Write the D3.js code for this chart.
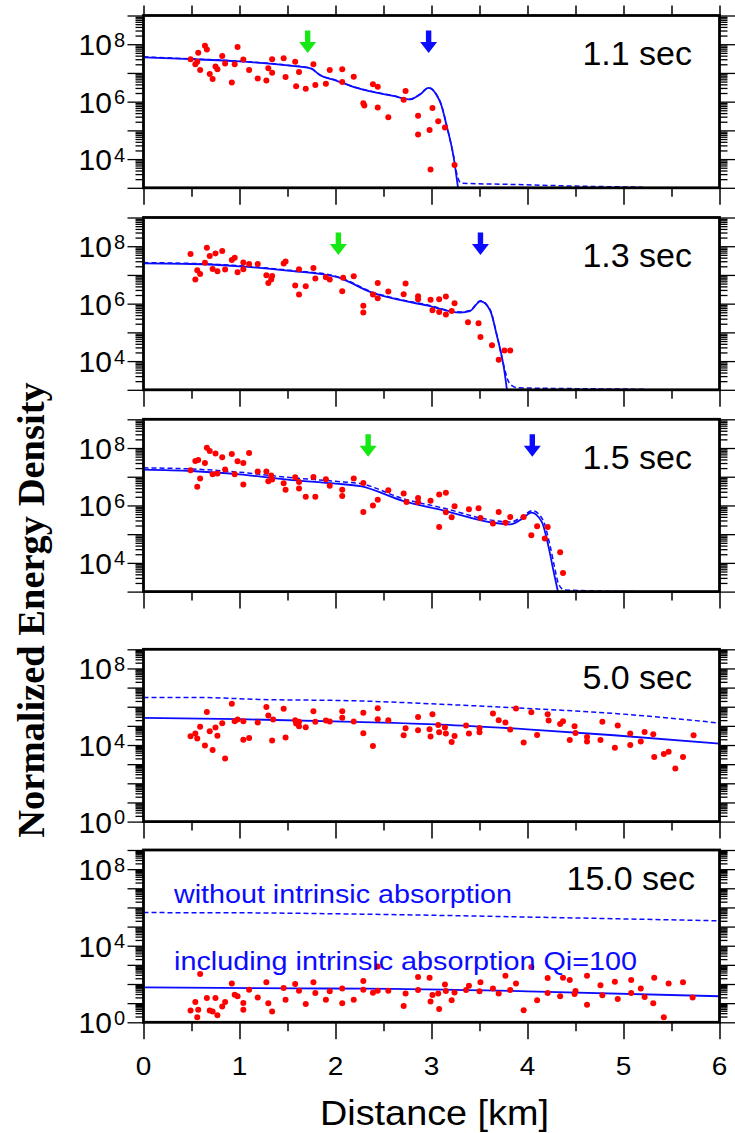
<!DOCTYPE html>
<html>
<head>
<meta charset="utf-8">
<script src="https://cdn.jsdelivr.net/npm/d3@7"></script>
<style>
  body { margin: 0; background: #fff; }
</style>
</head>
<body>
<div id="container"></div>
<script>
let w = 735;
let h = 1133;

// ---- data ----
const panelTimes = ["1.1 sec", "1.3 sec", "1.5 sec", "5.0 sec", "15.0 sec"];
const panelMinExp = [3, 3, 3, 0, 0];
const yLabelExps = [[8, 6, 4], [8, 6, 4], [8, 6, 4], [8, 4, 0], [8, 4, 0]];
const distanceTicks = [0, 1, 2, 3, 4, 5, 6];
const greenArrows = [1.71, 2.03, 2.34, null, null];
const blueArrows = [2.97, 3.51, 4.05, null, null];

// observed energy density: [distance km, log10 value]
const obs11 = [[0.49,7.48],[0.54,7.30],[0.57,7.70],[0.56,7.39],[0.59,7.10],[0.64,7.95],[0.66,7.82],[0.69,6.96],[0.72,6.79],[0.75,7.22],
  [0.77,7.13],[0.82,7.59],[0.85,7.33],[0.92,6.67],[0.95,7.30],[0.98,7.90],[1.04,7.47],[1.10,7.10],[1.19,6.81],[1.28,6.74],
  [1.30,7.16],[1.34,7.48],[1.34,7.01],[1.46,7.51],[1.48,6.86],[1.58,7.39],[1.59,6.54],[1.62,7.03],[1.69,6.45],[1.77,7.30],
  [1.79,6.58],[1.90,6.62],[1.94,7.10],[2.07,7.13],[2.07,6.68],[2.19,6.87],[2.29,5.94],[2.30,5.87],[2.39,6.61],[2.44,6.52],
  [2.44,5.80],[2.55,5.46],[2.71,6.07],[2.73,6.37],[2.86,5.51],[2.86,4.86],[2.98,5.01],[3.01,5.78],[2.99,3.64],[3.07,5.32],
  [3.14,5.10],[3.24,3.79]];
const obs13 = [[0.49,7.73],[0.54,6.84],[0.56,7.16],[0.59,7.03],[0.64,7.42],[0.66,7.95],[0.69,7.66],[0.72,7.21],[0.75,7.75],[0.77,7.13],
  [0.82,7.83],[0.85,7.19],[0.92,7.52],[0.95,7.60],[0.98,7.09],[1.04,7.43],[1.04,7.20],[1.10,7.38],[1.19,7.38],[1.28,6.99],
  [1.30,6.72],[1.34,6.96],[1.33,6.84],[1.46,7.40],[1.48,7.47],[1.58,6.63],[1.62,7.20],[1.62,6.32],[1.69,6.61],[1.77,7.24],
  [1.79,6.88],[1.90,6.92],[1.94,6.84],[2.08,6.90],[2.07,6.43],[2.19,6.95],[2.29,5.93],[2.29,5.69],[2.39,6.32],[2.44,6.72],
  [2.44,6.19],[2.55,6.42],[2.71,6.33],[2.73,6.70],[2.86,6.26],[2.86,6.15],[2.99,6.14],[3.01,5.77],[3.08,6.15],[3.08,5.71],
  [3.15,6.25],[3.15,5.62],[3.21,5.74],[3.24,6.01],[3.38,5.35],[3.49,5.32],[3.51,4.84],[3.63,4.55],[3.70,4.05],[3.76,4.37],
  [3.82,4.37]];
const obs15 = [[0.49,7.23],[0.54,7.55],[0.57,7.58],[0.56,6.65],[0.59,6.94],[0.64,7.48],[0.66,8.01],[0.69,7.90],[0.72,7.09],[0.75,7.81],
  [0.77,7.11],[0.82,7.68],[0.85,7.25],[0.92,7.79],[0.95,7.09],[0.98,7.54],[1.04,7.48],[1.04,6.73],[1.10,7.83],[1.19,7.18],
  [1.28,7.18],[1.30,6.84],[1.34,6.90],[1.33,7.04],[1.46,6.77],[1.48,6.55],[1.58,6.98],[1.62,6.82],[1.62,6.59],[1.69,6.30],
  [1.77,6.99],[1.79,6.30],[1.90,6.91],[1.94,6.69],[2.07,6.55],[2.07,6.33],[2.19,6.94],[2.29,6.78],[2.29,5.77],[2.39,6.00],
  [2.44,6.20],[2.55,6.53],[2.71,6.42],[2.74,6.12],[2.86,6.26],[2.86,6.11],[2.99,6.16],[3.08,6.38],[3.08,5.25],[3.15,6.44],
  [3.15,5.76],[3.21,5.59],[3.24,5.97],[3.39,5.87],[3.49,5.90],[3.51,5.56],[3.64,5.37],[3.70,5.77],[3.77,5.40],[3.82,5.60],
  [3.96,5.60],[4.04,4.96],[4.10,5.28],[4.18,4.85],[4.21,5.25],[4.34,4.37],[4.37,3.65]];
const obs50 = [[0.49,4.46],[0.54,4.60],[0.56,4.34],[0.59,4.96],[0.64,3.98],[0.66,5.73],[0.69,4.72],[0.72,3.74],[0.75,4.91],[0.77,4.49],
  [0.82,5.14],[0.85,3.30],[0.92,6.15],[0.95,5.24],[0.98,5.33],[1.04,4.28],[1.04,5.24],[1.10,4.37],[1.19,5.17],[1.28,5.98],
  [1.30,5.54],[1.34,4.23],[1.35,5.33],[1.46,5.89],[1.48,4.39],[1.58,5.29],[1.59,5.12],[1.62,4.98],[1.62,5.21],[1.69,4.93],
  [1.77,5.77],[1.79,5.21],[1.90,5.28],[1.94,5.23],[2.07,5.77],[2.07,5.42],[2.19,5.23],[2.29,5.68],[2.29,4.61],[2.39,3.95],
  [2.44,5.92],[2.44,5.35],[2.55,5.29],[2.71,4.51],[2.73,4.88],[2.86,5.47],[2.86,4.77],[2.98,4.82],[2.99,4.44],[3.01,5.61],
  [3.07,5.05],[3.08,4.67],[3.14,4.91],[3.15,4.60],[3.21,4.16],[3.24,4.47],[3.36,5.02],[3.39,4.60],[3.50,4.89],[3.50,4.67],
  [3.64,5.65],[3.70,5.29],[3.77,5.17],[3.82,4.81],[3.88,5.91],[3.96,4.13],[4.04,5.71],[4.10,4.52],[4.21,5.61],[4.22,5.28],
  [4.34,5.10],[4.37,5.24],[4.44,4.26],[4.49,4.98],[4.50,4.63],[4.62,4.42],[4.62,4.19],[4.76,4.26],[4.78,5.21],[4.91,3.86],
  [4.94,5.02],[5.07,4.60],[5.07,4.00],[5.18,4.19],[5.22,4.68],[5.31,4.56],[5.32,3.37],[5.42,3.53],[5.47,3.65],[5.54,2.78],
  [5.62,3.37],[5.73,4.51]];
const obs150 = [[0.49,0.61],[0.54,1.06],[0.57,0.66],[0.56,0.26],[0.59,2.52],[0.66,1.27],[0.69,0.61],[0.72,0.57],[0.75,1.27],[0.77,0.37],
  [0.82,0.82],[0.85,1.06],[0.92,2.03],[0.95,1.44],[0.98,1.36],[1.04,1.01],[1.04,0.66],[1.10,1.70],[1.19,1.30],[1.28,2.09],
  [1.30,0.99],[1.34,0.57],[1.46,1.79],[1.48,1.18],[1.58,2.00],[1.62,1.65],[1.69,0.96],[1.77,2.09],[1.79,1.53],[1.90,1.18],
  [1.94,1.62],[2.07,1.77],[2.07,0.99],[2.19,1.18],[2.29,2.16],[2.29,1.70],[2.39,1.55],[2.44,2.92],[2.44,1.65],[2.55,1.65],
  [2.71,0.85],[2.73,1.50],[2.86,2.37],[2.86,1.69],[2.98,2.33],[2.99,1.08],[3.01,1.43],[3.07,1.51],[3.08,0.70],[3.14,1.98],
  [3.15,1.64],[3.21,1.15],[3.24,1.56],[3.36,1.69],[3.39,1.91],[3.51,2.09],[3.50,1.62],[3.64,1.77],[3.70,1.50],[3.77,2.43],
  [3.82,1.69],[3.88,2.03],[3.96,0.63],[4.04,2.89],[4.10,1.15],[4.21,2.31],[4.21,1.53],[4.34,1.36],[4.37,2.33],[4.44,2.21],
  [4.49,1.48],[4.50,1.64],[4.62,2.43],[4.62,0.92],[4.76,1.93],[4.78,1.41],[4.91,2.12],[4.94,1.22],[5.08,2.21],[5.08,1.53],
  [5.18,1.77],[5.22,1.32],[5.32,2.33],[5.31,0.99],[5.42,0.26],[5.47,2.03],[5.62,2.09],[5.72,1.30]];

// model including intrinsic absorption (solid) / without (dashed)
const with11 = [[0,7.54],[0.5,7.48],[1.0,7.40],[1.5,7.26],[1.74,7.16],[1.84,6.92],[2.0,6.74],[2.2,6.50],[2.4,6.33],[2.6,6.20],
  [2.78,6.08],[2.88,6.25],[2.97,6.48],[3.05,6.25],[3.1,5.9],[3.16,5.13],[3.23,4.08],[3.28,2.9]];
const without11 = [[0,7.56],[0.5,7.49],[1.0,7.41],[1.5,7.27],[1.74,7.17],[1.84,6.93],[2.0,6.75],[2.2,6.51],[2.4,6.34],[2.6,6.21],
  [2.78,6.09],[2.88,6.26],[2.97,6.49],[3.05,6.26],[3.1,5.92],[3.16,5.15],[3.23,4.1],[3.27,3.4],[3.31,3.16],[3.8,3.12],[4.5,3.06],[5.2,3.02]];
const with13 = [[0,7.40],[0.5,7.38],[1.0,7.30],[1.5,7.15],[2.01,6.93],[2.1,6.82],[2.36,6.41],[2.6,6.18],[2.95,5.94],[3.3,5.69],
  [3.4,5.74],[3.51,6.08],[3.61,5.77],[3.68,4.90],[3.75,3.85],[3.79,2.9]];
const without13 = [[0,7.43],[0.5,7.40],[1.0,7.32],[1.5,7.17],[2.01,6.95],[2.1,6.84],[2.36,6.43],[2.6,6.20],[2.95,5.96],[3.3,5.71],
  [3.4,5.76],[3.51,6.10],[3.61,5.79],[3.68,4.92],[3.75,3.88],[3.8,3.3],[3.85,3.12],[3.9,3.07],[4.5,3.04],[5.21,3.02]];
const with15 = [[0,7.25],[0.5,7.2],[1.0,7.08],[1.5,6.9],[2.0,6.76],[2.26,6.67],[2.71,6.15],[3.12,5.83],[3.64,5.40],[3.82,5.34],
  [3.95,5.55],[4.04,5.75],[4.15,5.42],[4.22,4.55],[4.27,3.73],[4.32,2.95]];
const without15 = [[0,7.31],[0.5,7.27],[1.0,7.16],[1.5,6.98],[2.0,6.84],[2.26,6.76],[2.71,6.23],[3.12,5.91],[3.64,5.48],[3.82,5.42],
  [3.95,5.62],[4.05,5.82],[4.16,5.5],[4.235,4.6],[4.285,3.8],[4.32,3.3],[4.38,3.06],[5.14,3.0]];
const with50 = [[0,5.42],[1.0,5.35],[2.2,5.21],[3.1,5.07],[4.0,4.82],[4.9,4.51],[6.0,4.07]];
const without50 = [[0,6.48],[0.6,6.48],[1.2,6.38],[2.2,6.31],[3.1,6.13],[4.0,5.91],[4.9,5.65],[6.0,5.15]];
const with150 = [[0,1.82],[1.6,1.77],[2.3,1.76],[4.0,1.62],[6.0,1.36]];
const without150 = [[0,5.73],[1.0,5.72],[2.26,5.65],[4.3,5.47],[6.0,5.30]];

const observed = [obs11, obs13, obs15, obs50, obs150];
const withAbs = [with11, with13, with15, with50, with150];
const withoutAbs = [without11, without13, without15, without50, without150];

// ---- layout ----
let left = 143.5;
let right = 719.5;
let panelTops = [15.5, 217.5, 419.3, 649.3, 850];
let panelH = 172.3;
let timeOffset = [49.5, 49.5, 49.5, 40, 40];
let blue = "#0b0bff";
let font = "'Liberation Sans', Arial, sans-serif";

let viz = d3.select("#container")
  .append("svg")
    .attr("width", w)
    .attr("height", h)
    .style("background-color", "#fff")
;

let x = d3.scaleLinear().domain([0, 6]).range([left, right]);
let halfTicks = d3.range(0.5, 6, 1);

panelTimes.forEach(function(label, i){
    let top = panelTops[i];
    let bottom = top + panelH;
    let y = d3.scaleLog().domain([Math.pow(10, panelMinExp[i]), 1e9]).range([bottom, top]);
    let g = viz.append("g").attr("class", "panel");

    g.append("clipPath").attr("id", "clip" + i)
      .append("rect")
        .attr("x", left).attr("y", top)
        .attr("width", right - left).attr("height", panelH);

    let line = d3.line()
        .x(d => x(d[0]))
        .y(d => y(Math.pow(10, d[1])))
        .curve(d3.curveMonotoneX);

    let plot = g.append("g").attr("clip-path", "url(#clip" + i + ")");

    plot.append("path")
        .attr("d", line(withoutAbs[i]))
        .attr("fill", "none")
        .attr("stroke", blue)
        .attr("stroke-width", 1.5)
        .attr("stroke-dasharray", "5,3");

    plot.append("path")
        .attr("d", line(withAbs[i]))
        .attr("fill", "none")
        .attr("stroke", blue)
        .attr("stroke-width", 1.8);

    plot.selectAll(".dot").data(observed[i]).enter()
      .append("circle")
        .attr("class", "dot")
        .attr("cx", d => x(d[0]))
        .attr("cy", d => y(Math.pow(10, d[1])))
        .attr("r", 3)
        .attr("fill", "#ff0000");

    // arrows marking wave arrivals
    [[greenArrows[i], "#16e816"], [blueArrows[i], blue]].forEach(function(a){
        if (a[0] === null) return;
        let ax = x(a[0]);
        let t = top + 15;
        g.append("path")
            .attr("d", "M" + (ax - 2.7) + "," + t + "H" + (ax + 2.7) + "V" + (t + 11.5) +
                       "H" + (ax + 8.5) + "L" + ax + "," + (t + 22.5) + "L" + (ax - 8.5) + "," + (t + 11.5) +
                       "H" + (ax - 2.7) + "Z")
            .attr("fill", a[1]);
    });

    // y axes, log ticks
    let decades = d3.range(panelMinExp[i], 10).map(e => Math.pow(10, e));
    let minors = [];
    d3.range(panelMinExp[i], 9).forEach(function(e){
        for (let k = 2; k < 10; k++) minors.push(k * Math.pow(10, e));
    });
    let axes = [
        [d3.axisLeft(y).tickValues(decades).tickSize(16), left],
        [d3.axisLeft(y).tickValues(minors).tickSize(8), left],
        [d3.axisRight(y).tickValues(decades).tickSize(16), right],
        [d3.axisRight(y).tickValues(minors).tickSize(8), right]
    ];
    axes.forEach(function(a){
        let ax = g.append("g")
            .attr("transform", "translate(" + a[1] + ",0)")
            .call(a[0].tickFormat(""));
        ax.select(".domain").remove();
        ax.selectAll("line").attr("stroke", "#000").attr("stroke-width", 1.3);
    });

    // x axes
    let xb = [
        [d3.axisBottom(x).tickValues(distanceTicks).tickSize(17), bottom],
        [d3.axisBottom(x).tickValues(halfTicks).tickSize(9), bottom]
    ];
    if (i === 0) {
        xb.push([d3.axisTop(x).tickValues(distanceTicks.concat(halfTicks)).tickSize(10), top]);
    }
    xb.forEach(function(a){
        let ax = g.append("g")
            .attr("transform", "translate(0," + a[1] + ")")
            .call(a[0].tickFormat(""));
        ax.select(".domain").remove();
        ax.selectAll("line").attr("stroke", "#000").attr("stroke-width", 1.5);
    });

    // frame
    g.append("rect")
        .attr("x", left).attr("y", top)
        .attr("width", right - left).attr("height", panelH)
        .attr("fill", "none")
        .attr("stroke", "#000")
        .attr("stroke-width", 2.8);

    // tick labels 10^n
    yLabelExps[i].forEach(function(e){
        let t = g.append("text")
            .attr("x", 125)
            .attr("y", y(Math.pow(10, e)) + 11)
            .attr("text-anchor", "end")
            .style("font-family", font)
            .style("font-size", "30px");
        t.append("tspan").text("10");
        t.append("tspan").attr("dx", 2).attr("dy", -8.5).style("font-size", "20px").text(e);
    });

    g.append("text")
        .attr("x", i === 4 ? 695 : 692)
        .attr("y", top + timeOffset[i])
        .attr("text-anchor", "end")
        .style("font-family", font)
        .style("font-size", "34px")
        .text(label);

    if (i === 4) {
        g.selectAll(".xlab").data(distanceTicks).enter()
          .append("text")
            .attr("class", "xlab")
            .attr("x", d => x(d))
            .attr("y", 1075)
            .attr("text-anchor", "middle")
            .style("font-family", font)
            .style("font-size", "25px")
            .attr("transform", d => "translate(" + x(d) + ",0) scale(1.12,1) translate(" + (-x(d)) + ",0)")
            .text(d => d);

        g.append("text")
            .attr("x", 174).attr("y", 903)
            .attr("fill", blue)
            .style("font-family", font)
            .style("font-size", "26px")
            .attr("textLength", 338)
            .attr("lengthAdjust", "spacingAndGlyphs")
            .text("without intrinsic absorption");

        g.append("text")
            .attr("x", 174).attr("y", 970)
            .attr("fill", blue)
            .style("font-family", font)
            .style("font-size", "26px")
            .attr("textLength", 463)
            .attr("lengthAdjust", "spacingAndGlyphs")
            .text("including intrinsic absorption Qi=100");
    }
});

viz.append("text")
    .attr("x", 320).attr("y", 1125)
    .style("font-family", font)
    .style("font-size", "35px")
    .attr("textLength", 229)
    .attr("lengthAdjust", "spacingAndGlyphs")
    .text("Distance [km]");

viz.append("text")
    .attr("transform", "translate(44,610) rotate(-90)")
    .attr("text-anchor", "middle")
    .style("font-family", "'Liberation Serif', 'Times New Roman', serif")
    .style("font-weight", "bold")
    .style("font-size", "38.5px")
    .text("Normalized Energy Density");
</script>
</body>
</html>
